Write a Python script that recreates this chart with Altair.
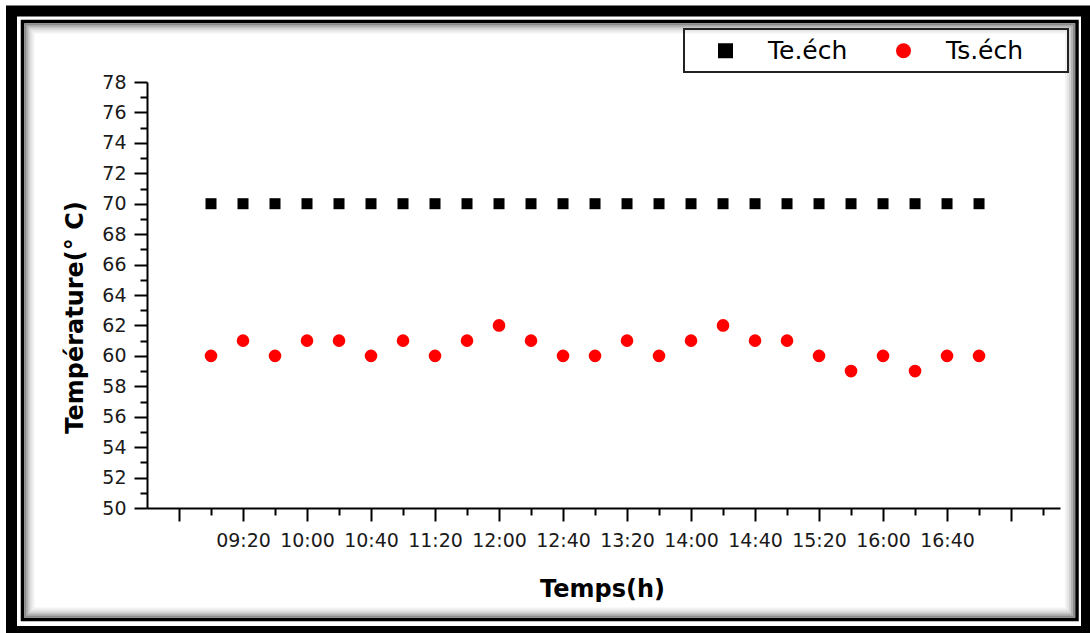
import json
import altair as alt
import pandas as pd

# ---------------- data ----------------
times = ["09:00", "09:20", "09:40", "10:00", "10:20", "10:40", "11:00", "11:20",
         "11:40", "12:00", "12:20", "12:40", "13:00", "13:20", "13:40", "14:00",
         "14:20", "14:40", "15:00", "15:20", "15:40", "16:00", "16:20", "16:40",
         "17:00"]
te_values = [70, 70, 70, 70, 70, 70, 70, 70, 70, 70, 70, 70, 70, 70, 70, 70,
             70, 70, 70, 70, 70, 70, 70, 70, 70]
ts_values = [60, 61, 60, 61, 61, 60, 61, 60, 61, 62, 61, 60, 60, 61, 60, 61,
             62, 61, 61, 60, 59, 60, 59, 60, 60]
series_names = ["Te.éch", "Ts.éch"]
series_colors = ["#000000", "#ff0000"]
series_shapes = ["square", "circle"]
x_tick_times = ["08:40", "09:00", "09:20", "09:40", "10:00", "10:20", "10:40",
                "11:00", "11:20", "11:40", "12:00", "12:20", "12:40", "13:00",
                "13:20", "13:40", "14:00", "14:20", "14:40", "15:00", "15:20",
                "15:40", "16:00", "16:20", "16:40", "17:00", "17:20", "17:40"]
x_tick_labels = ["09:20", "10:00", "10:40", "11:20", "12:00", "12:40", "13:20",
                 "14:00", "14:40", "15:20", "16:00", "16:40"]
y_ticks = list(range(50, 79))


def to_min(s):
    h, m = s.split(":")
    return int(h) * 60 + int(m)


df_te = pd.DataFrame({"t": [to_min(s) for s in times], "v": te_values,
                      "series": series_names[0]})
df_ts = pd.DataFrame({"t": [to_min(s) for s in times], "v": ts_values,
                      "series": series_names[1]})

x_tick_vals = [to_min(s) for s in x_tick_times]
lab_mins = [to_min(s) for s in x_tick_labels]
x_label_expr = ("indexof({m}, datum.value) >= 0 ? {l}[indexof({m}, datum.value)] : ''"
                .format(m=json.dumps(lab_mins), l=json.dumps(x_tick_labels)))

FONT = "DejaVu Sans"
PW, PH = 913, 426
X0, Y0 = 147, 82

x_scale = alt.Scale(domain=[500, 1070.6], nice=False, zero=False)
y_scale = alt.Scale(domain=[50, 78], nice=False, zero=False)

x_axis = alt.Axis(
    values=x_tick_vals, labelExpr=x_label_expr, grid=False,
    domainColor="#000", domainWidth=2, tickColor="#000", tickWidth=2,
    tickSize={"condition": {"test": "datum.value % 40 === 0", "value": 13}, "value": 7},
    labelFont=FONT, labelFontSize=19, labelColor="#1a1a1a", labelPadding=10,
    labelOverlap=False, labelFlush=False, labelBound=False,
    title="Temps(h)", titleFont=FONT, titleFontSize=24, titleFontWeight="bold",
    titleColor="#000", titleX=455, titleY=88, titleAlign="center",
    titleBaseline="alphabetic",
)
y_axis = alt.Axis(
    values=y_ticks, labelExpr="datum.value % 2 === 0 ? datum.label : ''", grid=False,
    domainColor="#000", domainWidth=2, tickColor="#000", tickWidth=2,
    tickSize={"condition": {"test": "datum.value % 2 === 0", "value": 13}, "value": 7},
    labelFont=FONT, labelFontSize=19, labelColor="#1a1a1a", labelPadding=8,
    labelOverlap=False, labelFlush=False, labelBound=False,
    title="Température(° C)", titleFont=FONT, titleFontSize=24,
    titleFontWeight="bold", titleColor="#000", titleAngle=270,
    titleX=-60, titleY=235, titleAlign="center", titleBaseline="bottom",
)

legend = alt.Legend(
    title=None, orient="none", legendX=566, legendY=-44, direction="horizontal",
    symbolSize=225, symbolStrokeWidth=0, symbolOpacity=1,
    labelFont=FONT, labelFontSize=25, labelColor="#000", labelOffset=30,
    columnPadding=43, padding=0, strokeColor="transparent",
)

color = alt.Color("series:N", scale=alt.Scale(domain=series_names, range=series_colors),
                  legend=legend)
shape = alt.Shape("series:N", scale=alt.Scale(domain=series_names, range=series_shapes),
                  legend=legend)

te_layer = alt.Chart(df_te).mark_point(filled=True, opacity=1, size=121).encode(
    x=alt.X("t:Q", scale=x_scale, axis=x_axis),
    y=alt.Y("v:Q", scale=y_scale, axis=y_axis),
    color=color, shape=shape,
)
ts_layer = alt.Chart(df_ts).mark_point(filled=True, opacity=1, size=160).encode(
    x=alt.X("t:Q", scale=x_scale, axis=x_axis),
    y=alt.Y("v:Q", scale=y_scale, axis=y_axis),
    color=color, shape=shape,
)


def box(ax, ax2, ay, ay2, width, color="#000", opacity=1.0):
    return alt.Chart(alt.Data(values=[{"k": 0}])).mark_rect(
        fill="transparent", stroke=color, strokeWidth=width, strokeOpacity=opacity
    ).encode(
        x=alt.value(ax - X0), x2=alt.value(ax2 - X0),
        y=alt.value(ay - Y0), y2=alt.value(ay2 - Y0),
    )


frames = [
    box(11.5, 1086.5, 11, 631.5, 11),
    box(22.5, 1077, 21.5, 619.5, 3.5),
]
# inner shadow
for i, op in enumerate([0.45, 0.3, 0.18, 0.1, 0.05]):
    d = 2 * i + 1
    frames.append(box(24.5 + d, 1075 - d, 23.5 + d, 617.5 - d, 2, "#000", op))

legend_box = box(684, 1068, 29, 72, 2, "#222")

chart = alt.layer(*frames, legend_box, te_layer, ts_layer).properties(
    width=PW, height=PH,
    autosize=alt.AutoSizeParams(type="none"),
    padding={"left": X0, "top": Y0, "right": 1090 - X0 - PW, "bottom": 633 - Y0 - PH},
    background="white",
).configure_view(stroke=None)

chart.save("out.html", embed_options={"renderer": "svg", "actions": False})
